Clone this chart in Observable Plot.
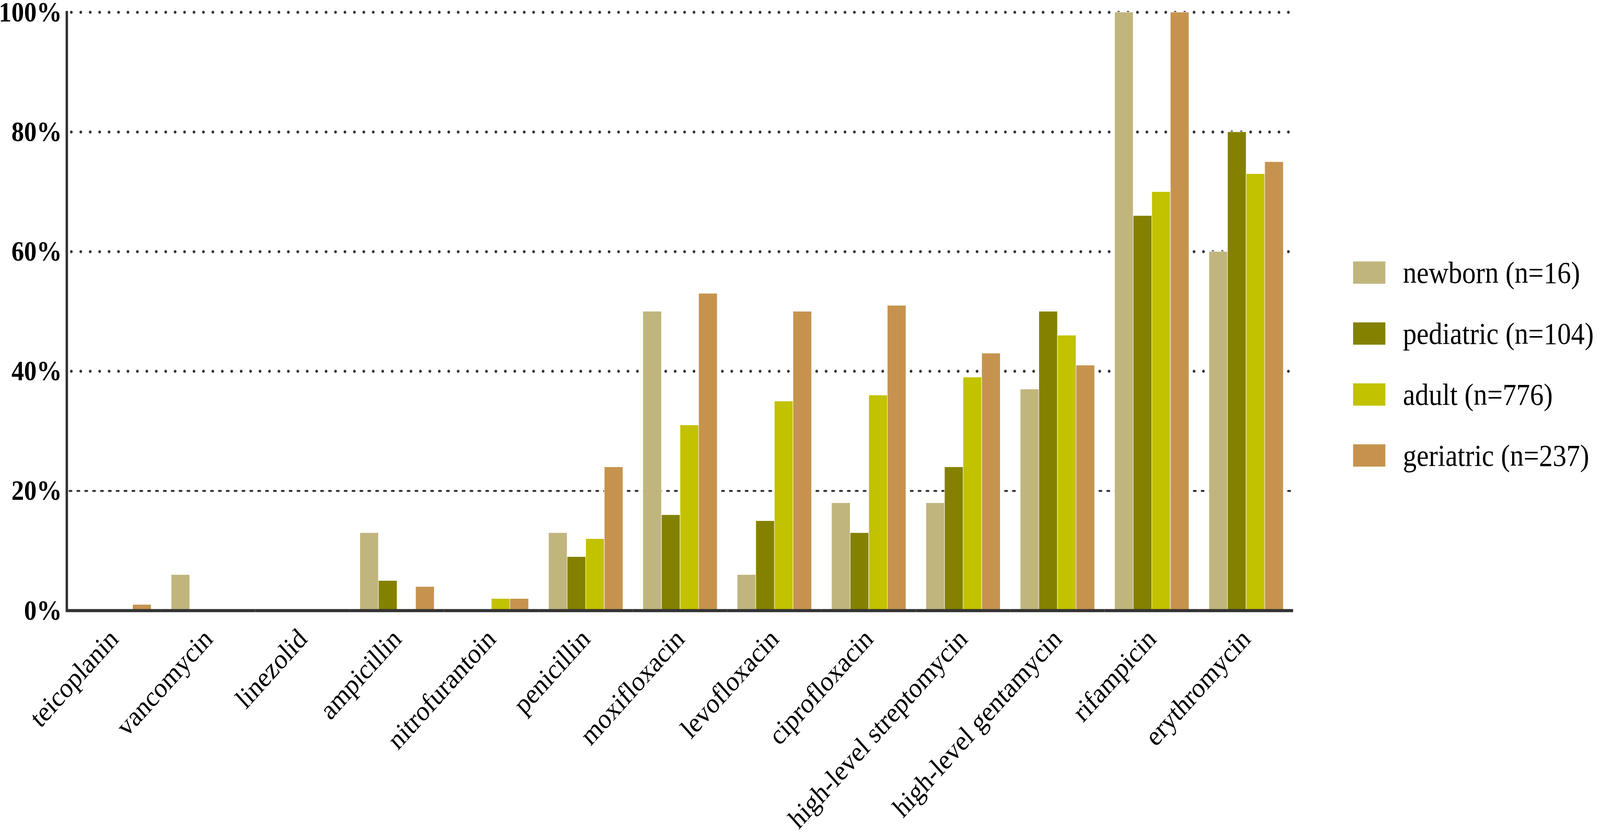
<!DOCTYPE html>
<html>
<head>
<meta charset="utf-8">
<script src="https://cdn.jsdelivr.net/npm/d3@7"></script>
<script src="https://cdn.jsdelivr.net/npm/@observablehq/plot@0.6"></script>
<style>
  html, body { margin: 0; padding: 0; background: #ffffff; overflow: hidden; }
  #wrap { position: relative; width: 4562px; height: 2129px; overflow: hidden; transform-origin: 0 0; }
  #chart { position: absolute; left: 0; top: 0; }
  #legend {
    position: absolute; left: 3858px; top: 669px;
    font-family: "Liberation Serif", "Times New Roman", serif;
    font-size: 78px; color: #000;
  }
  .row { display: flex; align-items: center; height: 57px; line-height: 57px; margin-bottom: 99px; white-space: nowrap; }
  .sw { width: 92px; height: 57px; margin-right: 50px; flex: none; }
</style>
</head>
<body>
<div id="wrap">
  <div id="chart"></div>
  <div id="legend"></div>
</div>
<script>
const categories = ["teicoplanin", "vancomycin", "linezolid", "ampicillin", "nitrofurantoin", "penicillin",
  "moxifloxacin", "levofloxacin", "ciprofloxacin", "high-level streptomycin", "high-level gentamycin",
  "rifampicin", "erythromycin"];
const groups = ["newborn (n=16)", "pediatric (n=104)", "adult (n=776)", "geriatric (n=237)"];
const newborn   = [0, 6, 0, 13, 0, 13, 50, 6, 18, 18, 37, 100, 60];
const pediatric = [0, 0, 0, 5, 0, 9, 16, 15, 13, 24, 50, 66, 80];
const adult     = [0, 0, 0, 0, 2, 12, 31, 35, 36, 39, 46, 70, 73];
const geriatric = [1, 0, 0, 4, 2, 24, 53, 50, 51, 43, 41, 100, 75];
const colors = ["#c0b57d", "#848100", "#c2c200", "#c6934f"];
const yTicks = [0, 20, 40, 60, 80, 100];
const dottedTicks = [40, 60, 80, 100];
const dashedTicks = [20];

const series = [newborn, pediatric, adult, geriatric];
const data = [];
categories.forEach((c, i) => {
  groups.forEach((g, k) => {
    data.push({antibiotic: c, group: g, value: series[k][i]});
  });
});

const font = '"Liberation Serif", "Times New Roman", serif';

const chart = Plot.plot({
  width: 3687,
  height: 2129,
  marginLeft: 190,
  marginRight: 0,
  marginTop: 31,
  marginBottom: 567,
  style: {fontFamily: font, background: "transparent", color: "#000", overflow: "visible"},
  fx: {domain: categories, padding: 0, label: null},
  x: {domain: groups, paddingInner: 0, paddingOuter: 0.51, axis: null},
  y: {domain: [0, 100], axis: null},
  color: {domain: groups, range: colors},
  marks: [
    Plot.ruleY(dottedTicks, {stroke: "#333", strokeWidth: 7.5, strokeDasharray: "0 26.9", strokeLinecap: "round", strokeDashoffset: -13.45}),
    Plot.ruleY(dashedTicks, {stroke: "#333", strokeWidth: 5, strokeDasharray: "6 16.42", strokeLinecap: "round", strokeDashoffset: -8}),
    Plot.barY(data, {fx: "antibiotic", x: "group", y: "value", fill: "group", stroke: "white", strokeWidth: 1.2}),
    Plot.ruleY([0], {stroke: "#333", strokeWidth: 8}),
    Plot.frame({anchor: "left", facetAnchor: "left", stroke: "#333", strokeWidth: 7}),
    Plot.axisY({ticks: yTicks, tickSize: 0, tickPadding: 14, tickFormat: d => d + "%", fontSize: 72, fontWeight: "bold", fill: "#000", label: null}),
    Plot.axisFx({anchor: "bottom", tickSize: 0, tickPadding: 60, tickRotate: -45, textAnchor: "end", lineAnchor: "middle", fontSize: 72, fill: "#000", label: null})
  ]
});
document.getElementById("chart").appendChild(chart);

const legend = document.getElementById("legend");
groups.forEach((g, k) => {
  const row = document.createElement("div");
  row.className = "row";
  const sw = document.createElement("div");
  sw.className = "sw";
  sw.style.background = colors[k];
  const label = document.createElement("span");
  label.textContent = g;
  row.appendChild(sw);
  row.appendChild(label);
  legend.appendChild(row);
});

// The page is laid out at the reference size (4562 x 2129); if the viewport is narrower,
// fit the whole figure into it so nothing is cut off at the right edge.
const sx = Math.min(1, window.innerWidth / 4562);
const sy = Math.min(1, window.innerHeight / 2129);
if (sx < 1 || sy < 1) {
  document.getElementById("wrap").style.transform = `scale(${sx}, ${sy})`;
}
</script>
</body>
</html>
